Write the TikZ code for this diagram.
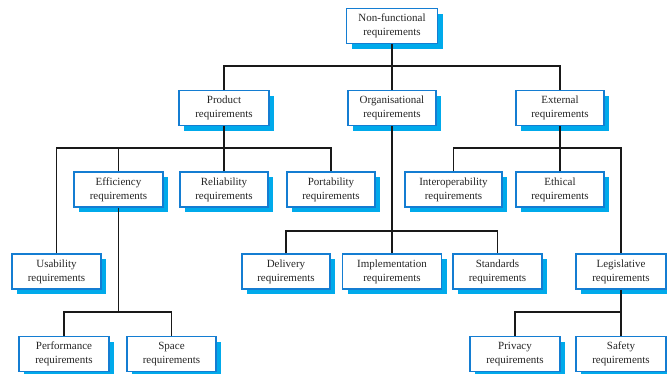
\documentclass[tikz,border=0pt]{standalone}
\usepackage{fontspec}
\setmainfont{Liberation Serif}
\usetikzlibrary{shadows}
\definecolor{boxedge}{RGB}{20,125,210}
\definecolor{boxshade}{RGB}{0,170,235}
\begin{document}
\begin{tikzpicture}[x=1pt,y=-1pt,
  req/.style={draw=boxedge, line width=1.5pt, fill=white, minimum height=35pt,
    inner sep=0pt, align=center, text=black!85,
    font=\fontsize{11}{14}\selectfont,
    general shadow={fill=boxshade, shadow xshift=5pt, shadow yshift=-5pt}},
  conn/.style={draw=black!90, line width=1.4pt}]

\useasboundingbox (0,0) rectangle (667,373);
\fill[white] (0,0) rectangle (667,373);

% level 0
\node[req, minimum width=91pt] (nf) at (392,26) {Non-functional\\requirements};

% level 1
\node[req, minimum width=90pt] (prod) at (224,108) {Product\\requirements};
\node[req, minimum width=88pt] (org) at (392,108) {Organisational\\requirements};
\node[req, minimum width=88pt] (ext) at (560,108) {External\\requirements};

% level 2
\node[req, minimum width=89pt] (eff) at (118.5,189.5) {Efficiency\\requirements};
\node[req, minimum width=88pt] (rel) at (224,189.5) {Reliability\\requirements};
\node[req, minimum width=88pt] (port) at (331,189.5) {Portability\\requirements};
\node[req, minimum width=97pt] (inter) at (453.5,189.5) {Interoperability\\requirements};
\node[req, minimum width=88pt] (eth) at (560,189.5) {Ethical\\requirements};

% level 3
\node[req, minimum width=89pt] (usab) at (56.5,271.5) {Usability\\requirements};
\node[req, minimum width=88pt] (deliv) at (286,271.5) {Delivery\\requirements};
\node[req, minimum width=99pt] (impl) at (392,271.5) {Implementation\\requirements};
\node[req, minimum width=89pt] (stand) at (497.5,271.5) {Standards\\requirements};
\node[req, minimum width=90pt] (legis) at (621,271.5) {Legislative\\requirements};

% level 4
\node[req, minimum width=90pt] (perf) at (64,354) {Performance\\requirements};
\node[req, minimum width=89pt] (space) at (171.5,354) {Space\\requirements};
\node[req, minimum width=90pt] (priv) at (515,354) {Privacy\\requirements};
\node[req, minimum width=90pt] (safe) at (621,354) {Safety\\requirements};

% bus lines
\coordinate (busA) at (0,66);
\coordinate (busB) at (0,148);
\coordinate (busC) at (0,231);
\coordinate (busD) at (0,312);

% non-functional
\draw[conn] (nf.south) -- (nf.south |- busA);
\draw[conn] (prod.north) |- (ext.north |- busA) -- (ext.north);
\draw[conn] (org.north) -- (org.north |- busA);

% product
\draw[conn] (prod.south) -- (prod.south |- busB);
\draw[conn] (usab.north) |- (port.north |- busB) -- (port.north);
\draw[conn] (eff.north) -- (eff.north |- busB);
\draw[conn] (rel.north) -- (rel.north |- busB);

% organisational
\draw[conn] (org.south) -- (org.south |- busC);
\draw[conn] (deliv.north) |- (stand.north |- busC) -- (stand.north);
\draw[conn] (impl.north) -- (impl.north |- busC);

% external
\draw[conn] (ext.south) -- (ext.south |- busB);
\draw[conn] (inter.north) |- (legis.north |- busB) -- (legis.north);
\draw[conn] (eth.north) -- (eth.north |- busB);

% efficiency
\draw[conn] (eff.south) -- (eff.south |- busD);
\draw[conn] (perf.north) |- (space.north |- busD) -- (space.north);

% legislative
\draw[conn] (legis.south) -- (legis.south |- busD);
\draw[conn] (priv.north) |- (safe.north |- busD) -- (safe.north);
\end{tikzpicture}
\end{document}
